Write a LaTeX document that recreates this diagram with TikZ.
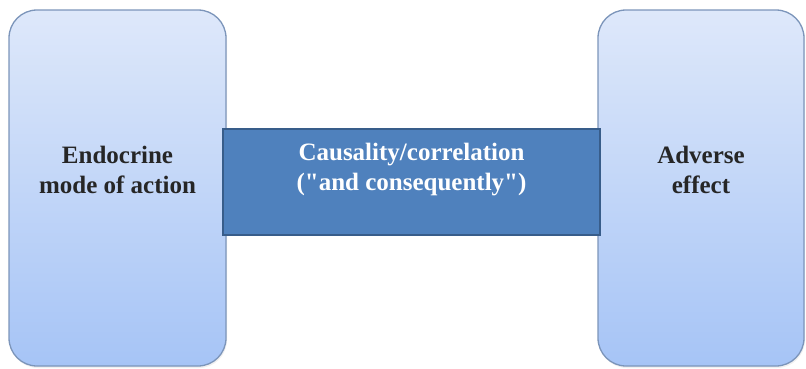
\documentclass[tikz,border=0pt]{standalone}
\usepackage{fontspec}
\setmainfont{Liberation Serif}
\usetikzlibrary{shadows}
\definecolor{boxtop}{RGB}{222,232,250}
\definecolor{boxbot}{RGB}{166,196,246}
\definecolor{boxline}{RGB}{124,149,186}
\definecolor{linkfill}{RGB}{79,129,189}
\definecolor{linkline}{RGB}{56,93,138}
\begin{document}
\begin{tikzpicture}[x=1pt, y=1pt,
  endbox/.style={rectangle, rounded corners=28pt, draw=boxline, line width=1.3pt,
    top color=boxtop, bottom color=boxbot, minimum width=#1, minimum height=356pt,
    inner sep=0pt, drop shadow={opacity=0.12, shadow xshift=1pt, shadow yshift=-2pt}},
  linkbox/.style={rectangle, draw=linkline, line width=1.3pt, fill=linkfill,
    minimum width=377pt, minimum height=106pt, inner sep=0pt},
  lbl/.style={font=\bfseries\fontsize{25}{30}\selectfont, align=center}]
\useasboundingbox (0,0) rectangle (806,368);
% the two ends
\node[endbox=217pt] (moa) at (117.5,180) {};
\node[endbox=206pt] (adv) at (701,180) {};
% the link between them
\node[linkbox] (link) at (411.5,186) {};
% labels
\node[lbl, text=black!85] (moatext) at ([yshift=18pt]moa.center) {Endocrine\\mode of action};
\node[lbl, text=black!85] (advtext) at ([yshift=18pt]adv.center) {Adverse\\effect};
\node[lbl, text=white] (linktext) at ([yshift=12pt]link.center) {Causality/correlation\\(\textquotedbl and consequently\textquotedbl)};
\end{tikzpicture}
\end{document}
